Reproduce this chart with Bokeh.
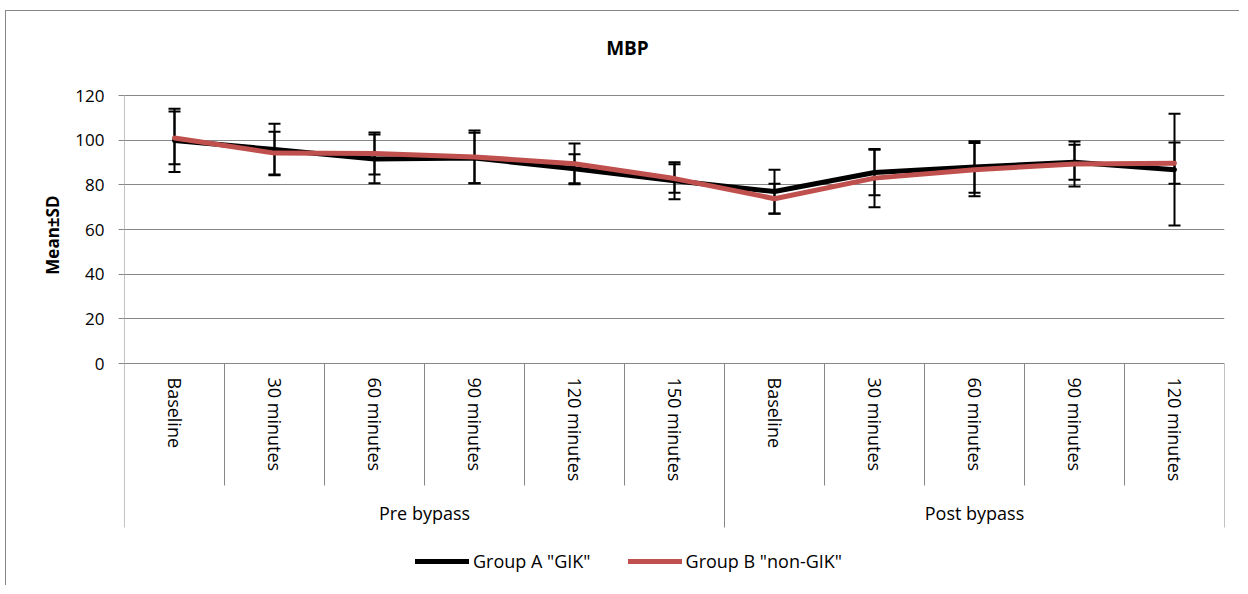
import math
from bokeh.plotting import figure
from bokeh.models import (ColumnDataSource, Range1d, FixedTicker, Whisker, TeeHead,
                          Title, Legend, LegendItem)
from bokeh.core.properties import value
from bokeh.embed import file_html
from bokeh.resources import INLINE

# ---------------- data ----------------
categories = ["Baseline", "30 minutes", "60 minutes", "90 minutes", "120 minutes", "150 minutes",
              "Baseline", "30 minutes", "60 minutes", "90 minutes", "120 minutes"]
groups = ["Pre bypass", "Post bypass"]
group_sizes = [6, 5]
group_a_mean = [99.9, 95.8, 91.6, 92.0, 87.2, 81.8, 77.0, 85.5, 88.0, 90.1, 86.8]
group_a_sd = [14.2, 11.5, 10.9, 11.3, 6.5, 8.3, 9.8, 10.2, 11.5, 7.8, 25.0]
group_b_mean = [101.0, 94.2, 94.0, 92.5, 89.4, 82.8, 73.8, 83.0, 86.8, 89.3, 89.7]
group_b_sd = [11.8, 9.6, 9.4, 11.8, 9.1, 6.4, 6.7, 13.0, 11.9, 10.1, 9.2]
series_names = ['Group A "GIK"', 'Group B "non-GIK"']
y_ticks = [0, 20, 40, 60, 80, 100, 120]
title_text = "MBP"
y_label = "Mean\u00b1SD"

# ---------------- layout constants ----------------
FONT = "Open Sans"
GRAY = "#878787"
RED = "#C0504D"
FRAME_TOP_PX = 19          # frame starts above the plot area so the title can live inside it
PLOT_TOP_PX = 84           # pixel distance from canvas top to the 120 gridline
PX_PER_UNIT = 268 / 120.0
CANVAS_H = 575
FRAME_H = CANVAS_H - FRAME_TOP_PX
Y_TOP = 120
Y_MAX = Y_TOP + (PLOT_TOP_PX - FRAME_TOP_PX) / PX_PER_UNIT
Y_MIN = Y_MAX - FRAME_H / PX_PER_UNIT
N = len(categories)

p = figure(width=1234, height=CANVAS_H, output_backend="svg", toolbar_location=None,
           x_range=Range1d(0, N), y_range=Range1d(Y_MIN, Y_MAX),
           min_border_left=118, min_border_right=16, min_border_top=FRAME_TOP_PX,
           min_border_bottom=0)
p.styles = {"border-left": "1px solid #878787", "border-top": "1px solid #878787",
            "margin-left": "5px", "margin-top": "10px"}
p.outline_line_color = None
p.background_fill_color = "white"
p.border_fill_color = "white"
p.xaxis.visible = False
p.xgrid.visible = False
p.ygrid.ticker = FixedTicker(ticks=y_ticks)
p.ygrid.grid_line_color = GRAY
p.ygrid.grid_line_width = 1

yax = p.yaxis[0]
yax.ticker = FixedTicker(ticks=y_ticks)
yax.axis_line_color = None
yax.major_tick_line_color = GRAY
yax.major_tick_out = 6
yax.major_tick_in = 0
yax.minor_tick_line_color = None
yax.major_label_text_font = FONT
yax.major_label_text_font_size = "17px"
yax.major_label_text_color = "black"
yax.major_label_standoff = 14

p.add_layout(Title(text=y_label, align="right", offset=165, standoff=18,
                   text_font=FONT, text_font_size="17px", text_font_style="bold",
                   text_color="black"), "left")

# chart title (drawn inside the extended frame, above the 120 gridline)
p.text(x=[N / 2.0], y=[Y_TOP], text=[title_text], x_offset=-47, y_offset=-48,
       text_align="center", text_baseline="middle", text_font=value(FONT),
       text_font_size="19px", text_font_style="bold", text_color="black")

# vertical axis line and category separators
inner_len = 122 / PX_PER_UNIT
group_len = 164 / PX_PER_UNIT
p.segment(x0=[0], y0=[Y_TOP], x1=[0], y1=[-group_len], line_color=GRAY, line_width=1)
bounds = []
acc = 0
for g in group_sizes:
    acc += g
    bounds.append(acc)
inner = [i for i in range(1, N) if i not in bounds]
p.segment(x0=inner, y0=[0] * len(inner), x1=inner, y1=[-inner_len] * len(inner),
          line_color=GRAY, line_width=1)
p.segment(x0=bounds, y0=[0] * len(bounds), x1=bounds, y1=[-group_len] * len(bounds),
          line_color=GRAY, line_width=1)

xs = [i + 0.5 for i in range(N)]
# category labels
p.text(x=xs, y=[0] * N, text=categories, angle=-math.pi / 2, y_offset=14,
       text_align="left", text_baseline="middle", text_font=value(FONT),
       text_font_size="18px", text_color="black")
# group labels
gx = []
start = 0
for g in group_sizes:
    gx.append(start + g / 2.0)
    start += g
p.text(x=gx, y=[0] * len(gx), text=groups, y_offset=149, text_align="center",
       text_baseline="middle", text_font=value(FONT), text_font_size="18px", text_color="black")

# series lines and error bars
src_a = ColumnDataSource(dict(x=xs, y=group_a_mean,
                              upper=[m + s for m, s in zip(group_a_mean, group_a_sd)],
                              lower=[m - s for m, s in zip(group_a_mean, group_a_sd)]))
src_b = ColumnDataSource(dict(x=xs, y=group_b_mean,
                              upper=[m + s for m, s in zip(group_b_mean, group_b_sd)],
                              lower=[m - s for m, s in zip(group_b_mean, group_b_sd)]))

la = p.line("x", "y", source=src_a, line_color="black", line_width=5,
            line_join="round", line_cap="round")
p.add_layout(Whisker(source=src_a, base="x", upper="upper", lower="lower",
                     line_color="black", line_width=2,
                     upper_head=TeeHead(size=12, line_width=2, line_color="black"),
                     lower_head=TeeHead(size=12, line_width=2, line_color="black")))
lb = p.line("x", "y", source=src_b, line_color=RED, line_width=5,
            line_join="round", line_cap="round")
p.add_layout(Whisker(source=src_b, base="x", upper="upper", lower="lower",
                     line_color="black", line_width=2,
                     upper_head=TeeHead(size=12, line_width=2, line_color="black"),
                     lower_head=TeeHead(size=12, line_width=2, line_color="black")))

legend = Legend(items=[LegendItem(label=series_names[0], renderers=[la]),
                       LegendItem(label=series_names[1], renderers=[lb])],
                location=(291, 13), orientation="horizontal",
                glyph_width=54, glyph_height=20, label_standoff=4, spacing=37,
                padding=0, margin=0, border_line_color=None, background_fill_alpha=0,
                label_text_font=FONT, label_text_font_size="18px", label_text_color="black")
p.add_layout(legend)

open("out.html", "w").write(file_html(p, INLINE))
